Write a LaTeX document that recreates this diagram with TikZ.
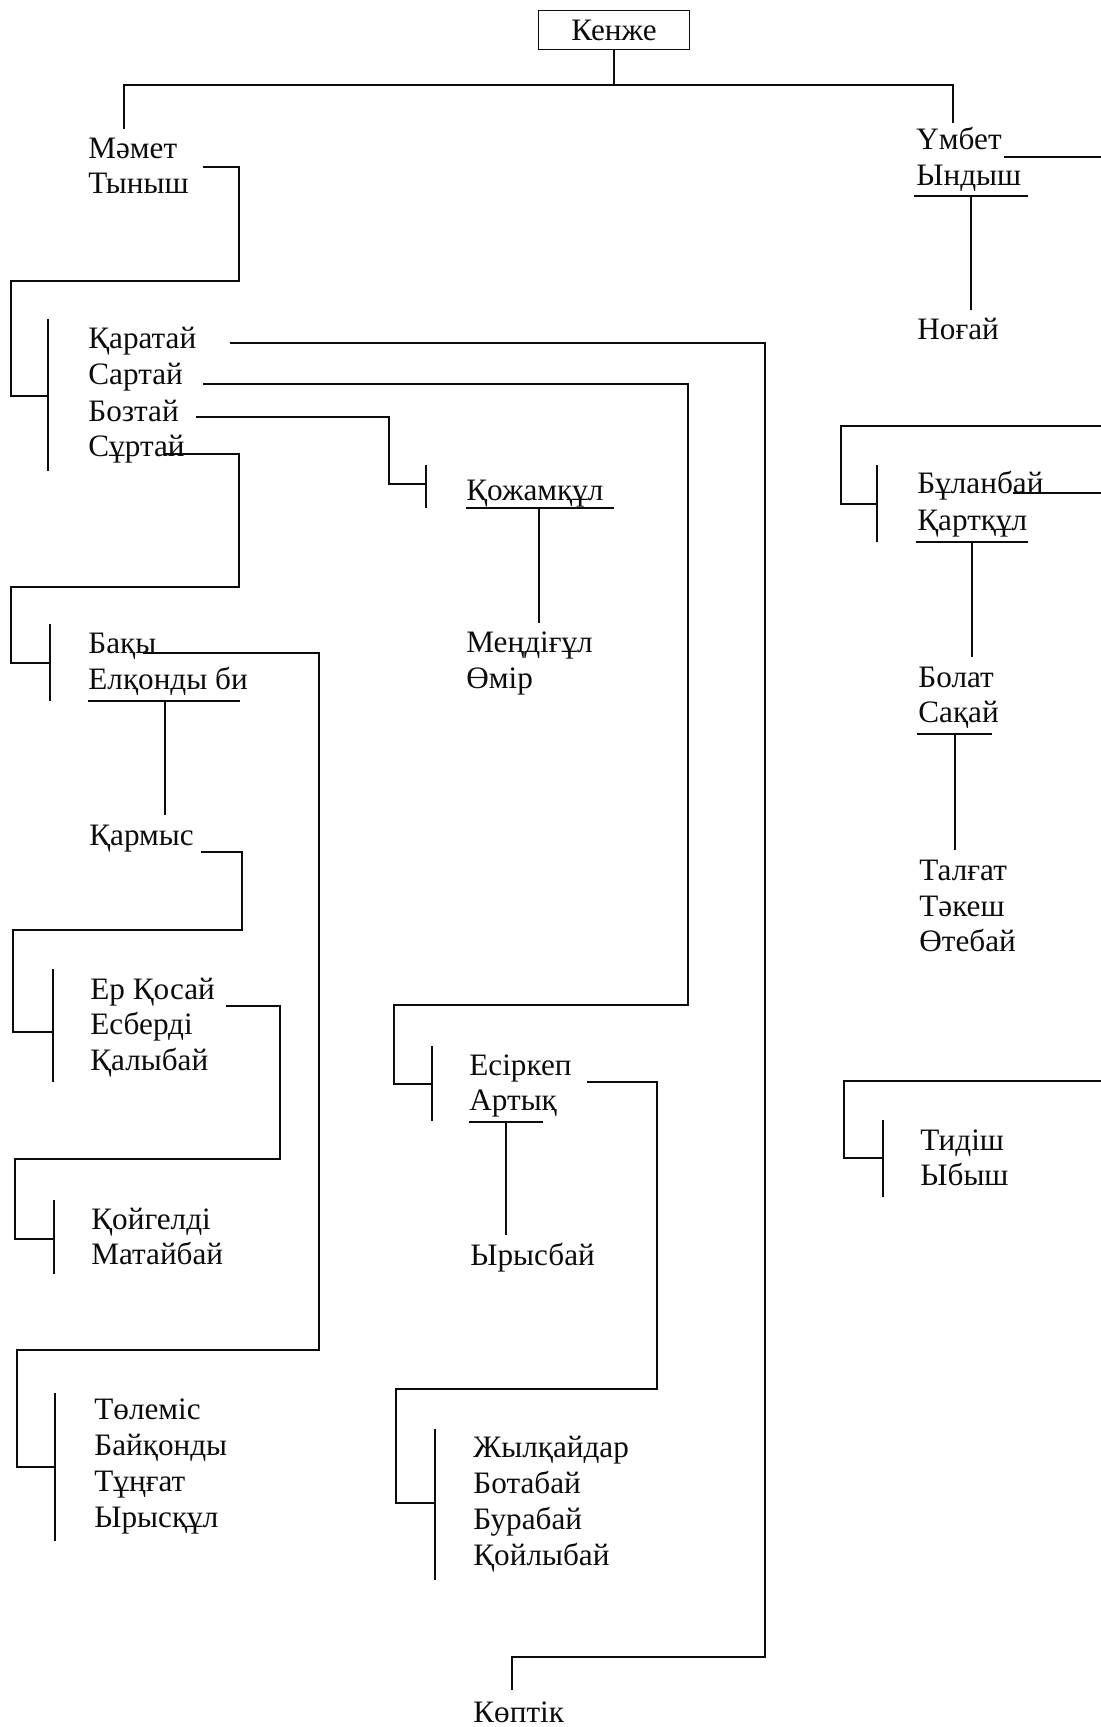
\documentclass[tikz,border=0pt]{standalone}
\usepackage{fontspec}
\setmainfont{Liberation Serif}
\usepackage{tikz}
\usetikzlibrary{calc}
\definecolor{kzink}{RGB}{12,12,12}
\tikzset{
  nm/.style={anchor=base west, inner sep=0pt, text=kzink,
    font=\fontsize{15.6pt}{18pt}\selectfont},
  root/.style={draw=kzink, line width=0.8pt, inner sep=0pt,
    minimum width=75.5pt, minimum height=19.5pt, text=kzink,
    font=\fontsize{15.6pt}{18pt}\selectfont},
  ln/.style={draw=kzink, line width=0.95pt},
  brc/.style={ln}
}

\begin{document}
\begin{tikzpicture}[x=0.5pt, y=-0.5pt]
  \useasboundingbox (0,0) rectangle (1101,1727);
  \node[root] (kenzhe) at (614,30) {Кенже};
  \node[nm] (mamet) at (88,159) {Мәмет};
  \node[nm] (tynysh) at (88,194) {Тыныш};
  \node[nm] (karatai) at (88,349) {Қаратай};
  \node[nm] (sartai) at (88,385) {Сартай};
  \node[nm] (boztai) at (88,422) {Бозтай};
  \node[nm] (surtai) at (88,457) {Сұртай};
  \node[nm] (kozhamkul) at (466,500) {Қожамқұл};
  \node[nm] (mendigul) at (466,652) {Меңдіғұл};
  \node[nm] (omir) at (466,688) {Өмір};
  \node[nm] (baky) at (88,653) {Бақы};
  \node[nm] (elkondy) at (88,689) {Елқонды би};
  \node[nm] (karmys) at (89,845) {Қармыс};
  \node[nm] (erkosai) at (90,999) {Ер Қосай};
  \node[nm] (esberdi) at (90,1034) {Есберді};
  \node[nm] (kalybai) at (90,1070) {Қалыбай};
  \node[nm] (koigeldi) at (91,1229) {Қойгелді};
  \node[nm] (mataibai) at (91,1264) {Матайбай};
  \node[nm] (tolemis) at (94,1419) {Төлеміс};
  \node[nm] (baikondy) at (94,1455) {Байқонды};
  \node[nm] (tungat) at (94,1491) {Тұңғат};
  \node[nm] (yryskul) at (94,1527) {Ырысқұл};
  \node[nm] (esirkep) at (469,1075) {Есіркеп};
  \node[nm] (artyk) at (469,1110) {Артық};
  \node[nm] (yrysbai) at (470,1265) {Ырысбай};
  \node[nm] (zhylkaidar) at (473,1457) {Жылқайдар};
  \node[nm] (botabai) at (473,1493) {Ботабай};
  \node[nm] (burabai) at (473,1529) {Бурабай};
  \node[nm] (koilybai) at (473,1565) {Қойлыбай};
  \node[nm] (koptik) at (473,1722) {Көптік};
  \node[nm] (umbet) at (916,150) {Үмбет};
  \node[nm] (yndysh) at (916,186) {Ындыш};
  \node[nm] (nogai) at (917,340) {Ноғай};
  \node[nm] (bulanbai) at (917,494) {Бұланбай};
  \node[nm] (kartkul) at (917,530) {Қартқұл};
  \node[nm] (bolat) at (918,687) {Болат};
  \node[nm] (sakai) at (918,722) {Сақай};
  \node[nm] (talgat) at (919,880) {Талғат};
  \node[nm] (takesh) at (919,916) {Тәкеш};
  \node[nm] (otebai) at (919,951) {Өтебай};
  \node[nm] (tidish) at (920,1150) {Тидіш};
  \node[nm] (ybysh) at (920,1185) {Ыбыш};

  \coordinate (bKar) at (48,396);
  \coordinate (bBak) at (50,663);
  \coordinate (bKoz) at (426,484);
  \coordinate (bEsi) at (432,1084);
  \coordinate (bErk) at (53,1032);
  \coordinate (bKoi) at (54,1239);
  \coordinate (bTol) at (55,1467);
  \coordinate (bZhy) at (435,1503);
  \coordinate (bKop) at (512,1690);
  \coordinate (bBul) at (877,504);
  \coordinate (bTid) at (883,1158);

  \draw[brc] (48,319) -- (48,471);
  \draw[brc] (50,624) -- (50,701);
  \draw[brc] (426,465) -- (426,508);
  \draw[brc] (432,1046) -- (432,1121);
  \draw[brc] (53,969) -- (53,1082);
  \draw[brc] (54,1200) -- (54,1274);
  \draw[brc] (55,1393) -- (55,1541);
  \draw[brc] (435,1429) -- (435,1580);
  \draw[brc] (877,465) -- (877,542);
  \draw[brc] (883,1120) -- (883,1197);

  \draw[ln] (kenzhe.south) -- (614,85);
  \draw[ln] (124,129) |- (953,85) -- (953,123);

  \draw[ln] ([xshift=7pt,yshift=13.5pt]tynysh.base east) -| (239,281) -| (11,396) -- (bKar);
  \draw[ln] ([xshift=16.5pt,yshift=3pt]karatai.base east) -| (765,1657) -| (bKop);
  \draw[ln] ([xshift=10pt,yshift=0.5pt]sartai.base east) -| (688,1005) -| (394,1084) -- (bEsi);
  \draw[ln] ([xshift=8.5pt,yshift=2.5pt]boztai.base east) -| (389,484) -- (bKoz);
  \draw[ln] ([xshift=-10pt,yshift=1.5pt]surtai.base east) -| (239,587) -| (11,663) -- (bBak);
  \draw[ln] ([xshift=-7pt]baky.base east) -| (319,1350) -| (17,1467) -- (bTol);
  \draw[ln] ([xshift=3.5pt,yshift=-3.5pt]karmys.base east) -| (242,930) -| (13,1032) -- (bErk);
  \draw[ln] ([xshift=16.5pt,yshift=14pt]esberdi.base east) -| (280,1159) -| (15,1239) -- (bKoi);
  \draw[ln] ([xshift=7.5pt,yshift=-3.5pt]esirkep.base east) -| (657,1389) -| (396,1503) -- (bZhy);
  \draw[ln] ([xshift=1pt,yshift=-3.5pt]umbet.base east) coordinate (u0) -- (u0 -| 1101,0);
  \draw[ln] ([xshift=-15.5pt,yshift=0.5pt]bulanbai.base east) coordinate (u1) -- (u1 -| 1101,0);
  \draw[ln] (1101,426) -| (841,504) -- (bBul);
  \draw[ln] (1101,1081) -| (844,1158) -- (bTid);

  \draw[ln] (914,196) -- (1028,196);
  \draw[ln] (971,196) -- (971,310);
  \draw[ln] (466,508) -- (614,508);
  \draw[ln] (539,508) -- (539,623);
  \draw[ln] (88,701) -- (240,701);
  \draw[ln] (165,701) -- (165,815);
  \draw[ln] (469,1122) -- (543,1122);
  \draw[ln] (506,1122) -- (506,1235);
  \draw[ln] (916,542) -- (1028,542);
  \draw[ln] (972,542) -- (972,657);
  \draw[ln] (917,734) -- (992,734);
  \draw[ln] (955,734) -- (955,850);
\end{tikzpicture}
\end{document}
